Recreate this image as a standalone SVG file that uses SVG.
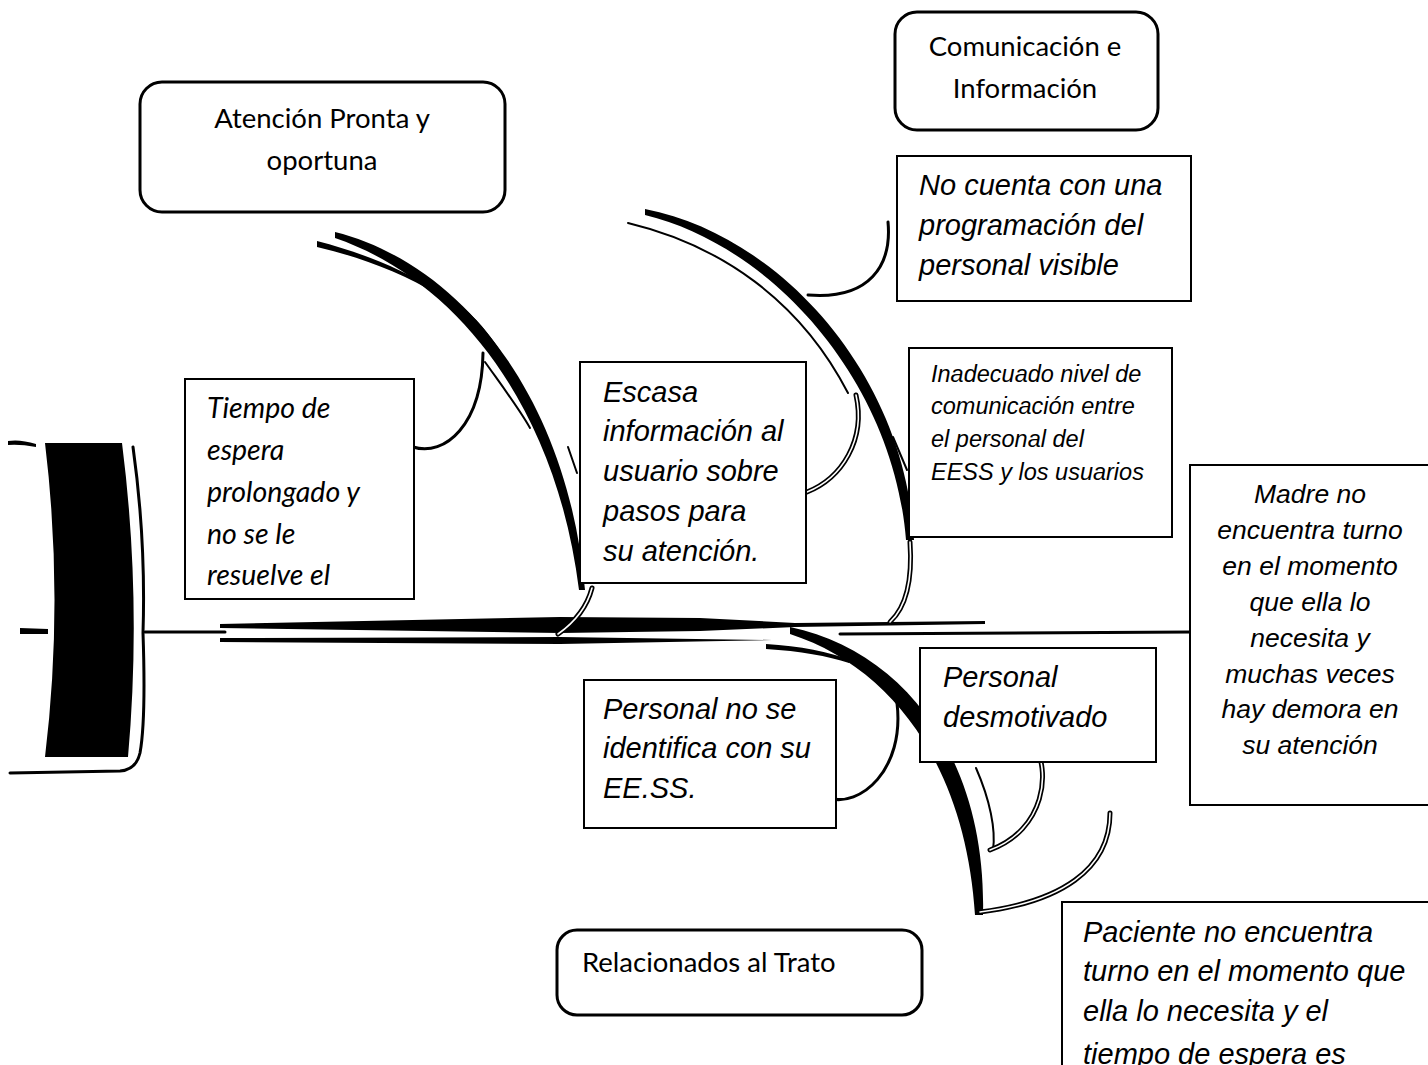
<svg xmlns="http://www.w3.org/2000/svg" width="1428" height="1065" viewBox="0 0 1428 1065">
<style>
.bg{fill:#fff}
.box{fill:#fff;stroke:#000;stroke-width:2}
.rbox{fill:#fff;stroke:#000;stroke-width:3}
.cal{font-family:Lato,"Open Sans","Liberation Sans",sans-serif;font-size:27.5px;fill:#000}
.cali{font-family:Lato,"Open Sans","Liberation Sans",sans-serif;font-size:28.5px;font-style:italic;fill:#000}
.ari{font-family:"Liberation Sans",Arial,sans-serif;font-size:29px;font-style:italic;fill:#000}
.ari23{font-family:"Liberation Sans",Arial,sans-serif;font-size:23.5px;font-style:italic;fill:#000}
.ari26{font-family:"Liberation Sans",Arial,sans-serif;font-size:26.5px;font-style:italic;fill:#000}
.ln{fill:none;stroke:#000;stroke-width:3;stroke-linecap:round}
.thin{fill:none;stroke:#000;stroke-width:2;stroke-linecap:round}
.dbl{fill:none;stroke:#000;stroke-width:5;stroke-linecap:round}
.dblw{fill:none;stroke:#fff;stroke-width:1.6;stroke-linecap:round}
.fillb{fill:#000;stroke:none}
</style>
<rect class="bg" x="0" y="0" width="1428" height="1065"/>

<g id="head">
  <path class="fillb" d="M45,443 L122,443 Q142,600 128,757 L45,757 Q64,600 45,443 Z"/>
  <path class="ln" d="M133,447 Q146,540 143,633 Q146,720 140,753 Q136,770 120,771 L10,773"/>
  <path class="fillb" d="M8,441 Q20,439 36,444 L36,447 Q20,444 8,445 Z"/>
  <path class="fillb" d="M20,628 L48,629 L48,634 L20,634 Z"/>
</g>

<g id="connectors">
  <!-- spine -->
  <path class="ln" d="M145,632 L225,632"/>
  <path class="fillb" d="M220,624 L560,617 L700,618 L795,623 L985,621 L985,624 L795,627 L700,631 L560,633 L220,628 Z"/>
  <path class="fillb" d="M220,638 L560,637 L772,640 L560,644 L220,642 Z"/>
  <path class="ln" d="M840,634 L1192,632"/>

  <!-- bone 1: Atención Pronta y oportuna -->
  <path class="fillb" d="M335,232 C462,264 568,398 585,590 L579,590 C556,405 455,279 335,238 Z"/>
  <path class="fillb" d="M317,241 C360,252 400,268 440,292 L439,295 C400,272 360,257 317,247 Z"/>
  <path class="thin" d="M440,293 C470,310 485,330 500,352"/>
  <path class="thin" d="M485,362 C505,390 520,410 530,428"/>
  <path class="thin" d="M568,447 L577,473"/>
  <path class="dbl" d="M592,588 Q585,615 558,634"/>
  <path class="dblw" d="M592,588 Q585,615 558,634"/>
  <path class="ln" d="M413,447 C445,457 482,425 483,353"/>

  <!-- bone 2: Comunicación e Información -->
  <path class="fillb" d="M645,209 C783,236 906,378 914,540 L906,540 C894,385 776,247 645,215 Z"/>
  <path class="thin" d="M628,223 C720,245 800,300 848,393"/>
  <path class="thin" d="M893,437 L907,470"/>
  <path class="dbl" d="M910,542 Q914,600 890,622"/>
  <path class="dblw" d="M910,542 Q914,600 890,622"/>
  <path class="dbl" d="M807,492 C842,478 866,440 856,395"/>
  <path class="dblw" d="M807,492 C842,478 866,440 856,395"/>
  <path class="ln" d="M888,222 C892,265 870,300 808,295"/>

  <!-- bone 3: Relacionados al Trato -->
  <path class="fillb" d="M790,627 C905,651 987,760 983,915 L975,915 C966,770 895,668 790,634 Z"/>
  <path class="fillb" d="M766,644 C800,646 830,652 850,660 L849,663 C828,656 800,651 766,649 Z"/>
  <path class="thin" d="M850,661 C885,678 912,705 925,740"/>
  <path class="thin" d="M976,768 C990,800 996,830 993,850"/>
  <path class="ln" d="M828,798 C860,808 905,770 897,703"/>
  <path class="dbl" d="M1033,743 C1052,770 1045,830 990,850"/>
  <path class="dblw" d="M1033,743 C1052,770 1045,830 990,850"/>
  <path class="dbl" d="M1110,813 C1110,870 1060,902 980,912"/>
  <path class="dblw" d="M1110,813 C1110,870 1060,902 980,912"/>
</g>

<g id="n-atencion">
  <rect class="rbox" x="140" y="82" width="365" height="130" rx="22"/>
  <text class="cal" x="322" y="128" text-anchor="middle">Atención Pronta y</text>
  <text class="cal" x="322" y="170" text-anchor="middle">oportuna</text>
</g>
<g id="n-comunicacion">
  <rect class="rbox" x="895" y="12" width="263" height="118" rx="22"/>
  <text class="cal" x="1025" y="56" text-anchor="middle">Comunicación e</text>
  <text class="cal" x="1025" y="98" text-anchor="middle">Información</text>
</g>
<g id="n-trato">
  <rect class="rbox" x="557" y="930" width="365" height="85" rx="20"/>
  <text class="cal" x="582" y="972">Relacionados al Trato</text>
</g>
<g id="n-tiempo">
  <rect class="box" x="185" y="379" width="229" height="220"/>
  <text class="cali" x="207" y="418">Tiempo de</text>
  <text class="cali" x="207" y="460">espera</text>
  <text class="cali" x="207" y="502">prolongado y</text>
  <text class="cali" x="207" y="544">no se le</text>
  <text class="cali" x="207" y="585">resuelve el</text>
</g>
<g id="n-escasa">
  <rect class="box" x="580" y="362" width="226" height="221"/>
  <text class="ari" x="603" y="402">Escasa</text>
  <text class="ari" x="603" y="441">información al</text>
  <text class="ari" x="603" y="481">usuario sobre</text>
  <text class="ari" x="603" y="521">pasos para</text>
  <text class="ari" x="603" y="561">su atención.</text>
</g>
<g id="n-nocuenta">
  <rect class="box" x="897" y="156" width="294" height="145"/>
  <text class="ari" x="919" y="195">No cuenta con una</text>
  <text class="ari" x="919" y="235">programación del</text>
  <text class="ari" x="919" y="275">personal visible</text>
</g>
<g id="n-inadecuado">
  <rect class="box" x="909" y="348" width="263" height="189"/>
  <text class="ari23" x="931" y="382">Inadecuado nivel de</text>
  <text class="ari23" x="931" y="414">comunicación entre</text>
  <text class="ari23" x="931" y="447">el personal del</text>
  <text class="ari23" x="931" y="480">EESS y los usuarios</text>
</g>
<g id="n-madre">
  <rect class="box" x="1190" y="465" width="245" height="340"/>
  <text class="ari26" x="1310" y="503" text-anchor="middle">Madre no</text>
  <text class="ari26" x="1310" y="539" text-anchor="middle">encuentra turno</text>
  <text class="ari26" x="1310" y="575" text-anchor="middle">en el momento</text>
  <text class="ari26" x="1310" y="611" text-anchor="middle">que ella lo</text>
  <text class="ari26" x="1310" y="647" text-anchor="middle">necesita y</text>
  <text class="ari26" x="1310" y="683" text-anchor="middle">muchas veces</text>
  <text class="ari26" x="1310" y="718" text-anchor="middle">hay demora en</text>
  <text class="ari26" x="1310" y="754" text-anchor="middle">su atención</text>
</g>
<g id="n-identifica">
  <rect class="box" x="584" y="680" width="252" height="148"/>
  <text class="ari" x="603" y="719">Personal no se</text>
  <text class="ari" x="603" y="758">identifica con su</text>
  <text class="ari" x="603" y="798">EE.SS.</text>
</g>
<g id="n-desmotivado">
  <rect class="box" x="920" y="648" width="236" height="114"/>
  <text class="ari" x="943" y="687">Personal</text>
  <text class="ari" x="943" y="727">desmotivado</text>
</g>
<g id="n-paciente">
  <rect class="box" x="1062" y="902" width="375" height="180"/>
  <text class="ari" x="1083" y="942">Paciente no encuentra</text>
  <text class="ari" x="1083" y="981">turno en el momento que</text>
  <text class="ari" x="1083" y="1021">ella lo necesita y el</text>
  <text class="ari" x="1083" y="1064">tiempo de espera es</text>
</g>
</svg>
